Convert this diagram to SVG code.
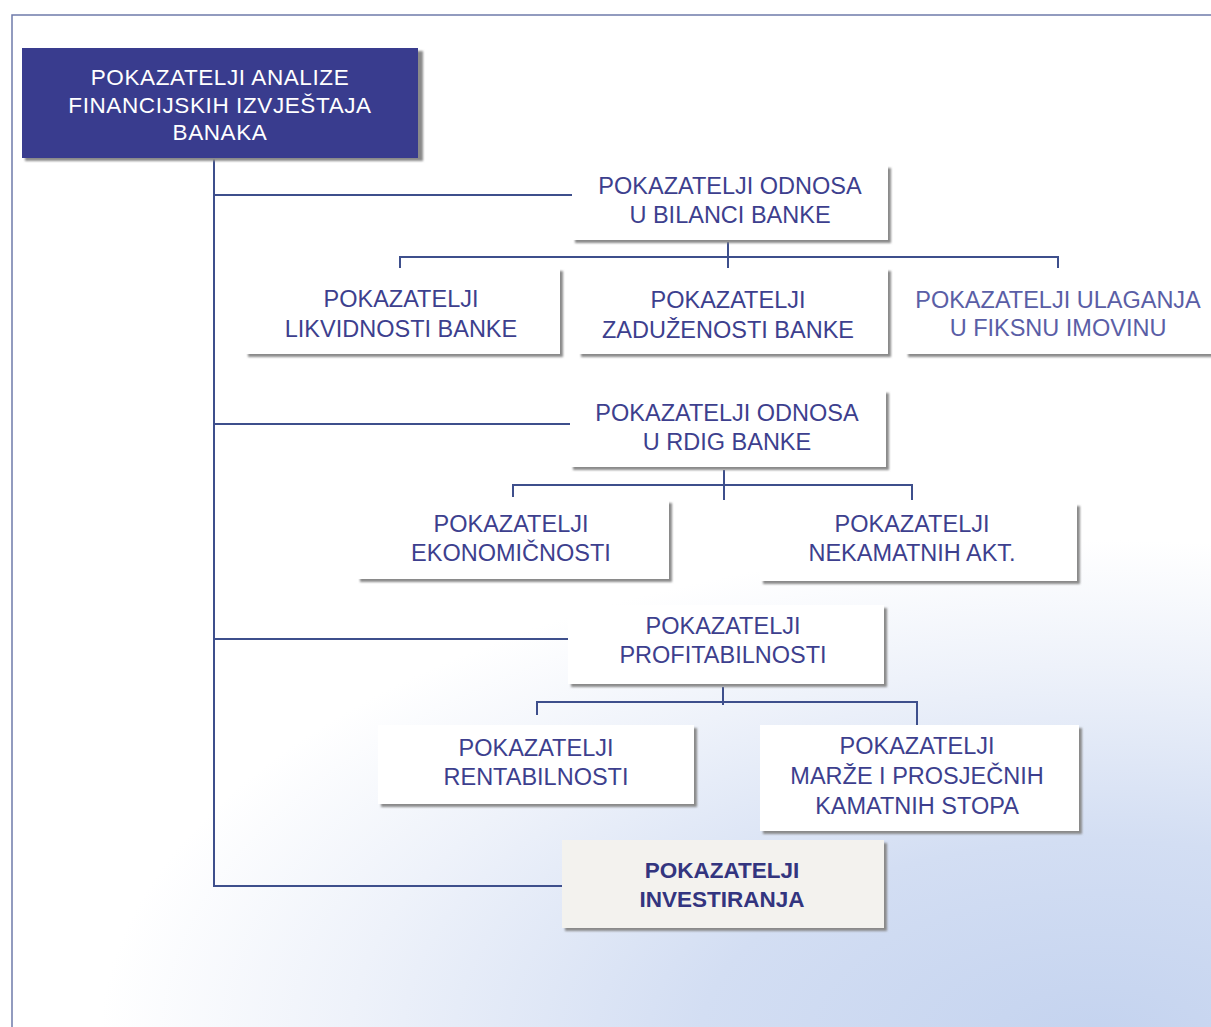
<svg xmlns="http://www.w3.org/2000/svg" width="1211" height="1027" viewBox="0 0 1211 1027">
<defs>
<radialGradient id="sky" gradientUnits="userSpaceOnUse" cx="1100" cy="1040" r="1000" gradientTransform="translate(1100 1040) scale(1 0.5) translate(-1100 -1040)">
<stop offset="0" stop-color="#c4d3ef"/>
<stop offset="0.4" stop-color="#d3def3"/>
<stop offset="0.75" stop-color="#eef2fa"/>
<stop offset="1" stop-color="#ffffff"/>
</radialGradient>
<filter id="blur" x="-5%" y="-5%" width="110%" height="110%"><feGaussianBlur stdDeviation="1"/></filter>
</defs>
<style>
.frame{fill:none;stroke:#6f7bab;stroke-width:1.5}
.conn{fill:none;stroke:#3e4f8c;stroke-width:2}
.box{fill:#ffffff}
.shadow{fill:#8a8a8a;filter:url(#blur)}
.t{font-family:"Liberation Sans","Open Sans",sans-serif;font-size:23.5px;fill:#3d3f8e;text-anchor:middle}
.b{font-weight:bold;fill:#33357f;font-size:22.5px}
.lt{fill:#5a5ea6}
.title{font-family:"Liberation Sans","Open Sans",sans-serif;font-size:22.5px;fill:#ffffff;text-anchor:middle;letter-spacing:0.6px}
</style>
<rect width="1211" height="1027" fill="#ffffff"/>
<rect width="1211" height="1027" fill="url(#sky)"/>
<path class="frame" d="M12 1027 V15 H1211"/>

<g id="connectors">
<path class="conn" d="M214 158 V886 H562"/>
<path class="conn" d="M214 195 H572"/>
<path class="conn" d="M214 424 H570"/>
<path class="conn" d="M214 639 H568"/>
<path class="conn" d="M728 242 V257 M400 268 V257 H1058 V268 M728 257 V268"/>
<path class="conn" d="M724 470 V485 M513 497 V485 H912 V500 M724 485 V500"/>
<path class="conn" d="M723 687 V702 M537 715 V702 H917 V725 M723 702 V705"/>
</g>

<g id="root">
<rect class="shadow" x="25" y="51" width="398" height="110"/>
<rect x="22" y="48" width="396" height="110" fill="#393c8e"/>
<text class="title" x="220" y="85">POKAZATELJI ANALIZE</text>
<text class="title" x="220" y="113">FINANCIJSKIH IZVJEŠTAJA</text>
<text class="title" x="220" y="140">BANAKA</text>
</g>

<g id="bilanca">
<rect class="shadow" x="575" y="168" width="316" height="75"/>
<rect class="box" x="572" y="165" width="316" height="75"/>
<text class="t" x="730" y="194">POKAZATELJI ODNOSA</text>
<text class="t" x="730" y="223">U BILANCI BANKE</text>
</g>

<g id="likvidnost">
<rect class="shadow" x="248" y="271" width="315" height="86"/>
<rect class="box" x="245" y="268" width="315" height="86"/>
<text class="t" x="401" y="307">POKAZATELJI</text>
<text class="t" x="401" y="337">LIKVIDNOSTI BANKE</text>
</g>

<g id="zaduzenost">
<rect class="shadow" x="581" y="271" width="310" height="86"/>
<rect class="box" x="578" y="268" width="310" height="86"/>
<text class="t" x="728" y="308">POKAZATELJI</text>
<text class="t" x="728" y="338">ZADUŽENOSTI BANKE</text>
</g>

<g id="ulaganja">
<rect class="shadow" x="908" y="271" width="306" height="86"/>
<rect class="box" x="905" y="268" width="306" height="86"/>
<text class="t lt" x="1058" y="308">POKAZATELJI ULAGANJA</text>
<text class="t lt" x="1058" y="336">U FIKSNU IMOVINU</text>
</g>

<g id="rdig">
<rect class="shadow" x="573" y="393" width="316" height="77"/>
<rect class="box" x="570" y="390" width="316" height="77"/>
<text class="t" x="727" y="421">POKAZATELJI ODNOSA</text>
<text class="t" x="727" y="450">U RDIG BANKE</text>
</g>

<g id="ekonomicnost">
<rect class="shadow" x="360" y="503" width="312" height="79"/>
<rect class="box" x="357" y="500" width="312" height="79"/>
<text class="t" x="511" y="532">POKAZATELJI</text>
<text class="t" x="511" y="561">EKONOMIČNOSTI</text>
</g>

<g id="nekamatne">
<rect class="shadow" x="763" y="506" width="317" height="78"/>
<rect class="box" x="760" y="503" width="317" height="78"/>
<text class="t" x="912" y="532">POKAZATELJI</text>
<text class="t" x="912" y="561">NEKAMATNIH AKT.</text>
</g>

<g id="profitabilnost">
<rect class="shadow" x="571" y="608" width="316" height="79"/>
<rect class="box" x="568" y="605" width="316" height="79"/>
<text class="t" x="723" y="634">POKAZATELJI</text>
<text class="t" x="723" y="663">PROFITABILNOSTI</text>
</g>

<g id="rentabilnost">
<rect class="shadow" x="381" y="728" width="316" height="79"/>
<rect class="box" x="378" y="725" width="316" height="79"/>
<text class="t" x="536" y="756">POKAZATELJI</text>
<text class="t" x="536" y="785">RENTABILNOSTI</text>
</g>

<g id="marze">
<rect class="shadow" x="763" y="728" width="319" height="106"/>
<rect class="box" x="760" y="725" width="319" height="106"/>
<text class="t" x="917" y="754">POKAZATELJI</text>
<text class="t" x="917" y="784">MARŽE I PROSJEČNIH</text>
<text class="t" x="917" y="814">KAMATNIH STOPA</text>
</g>

<g id="investiranje">
<rect class="shadow" x="565" y="843" width="322" height="88"/>
<rect x="562" y="840" width="322" height="88" fill="#f3f2ee"/>
<text class="t b" x="722" y="878">POKAZATELJI</text>
<text class="t b" x="722" y="907">INVESTIRANJA</text>
</g>
</svg>
